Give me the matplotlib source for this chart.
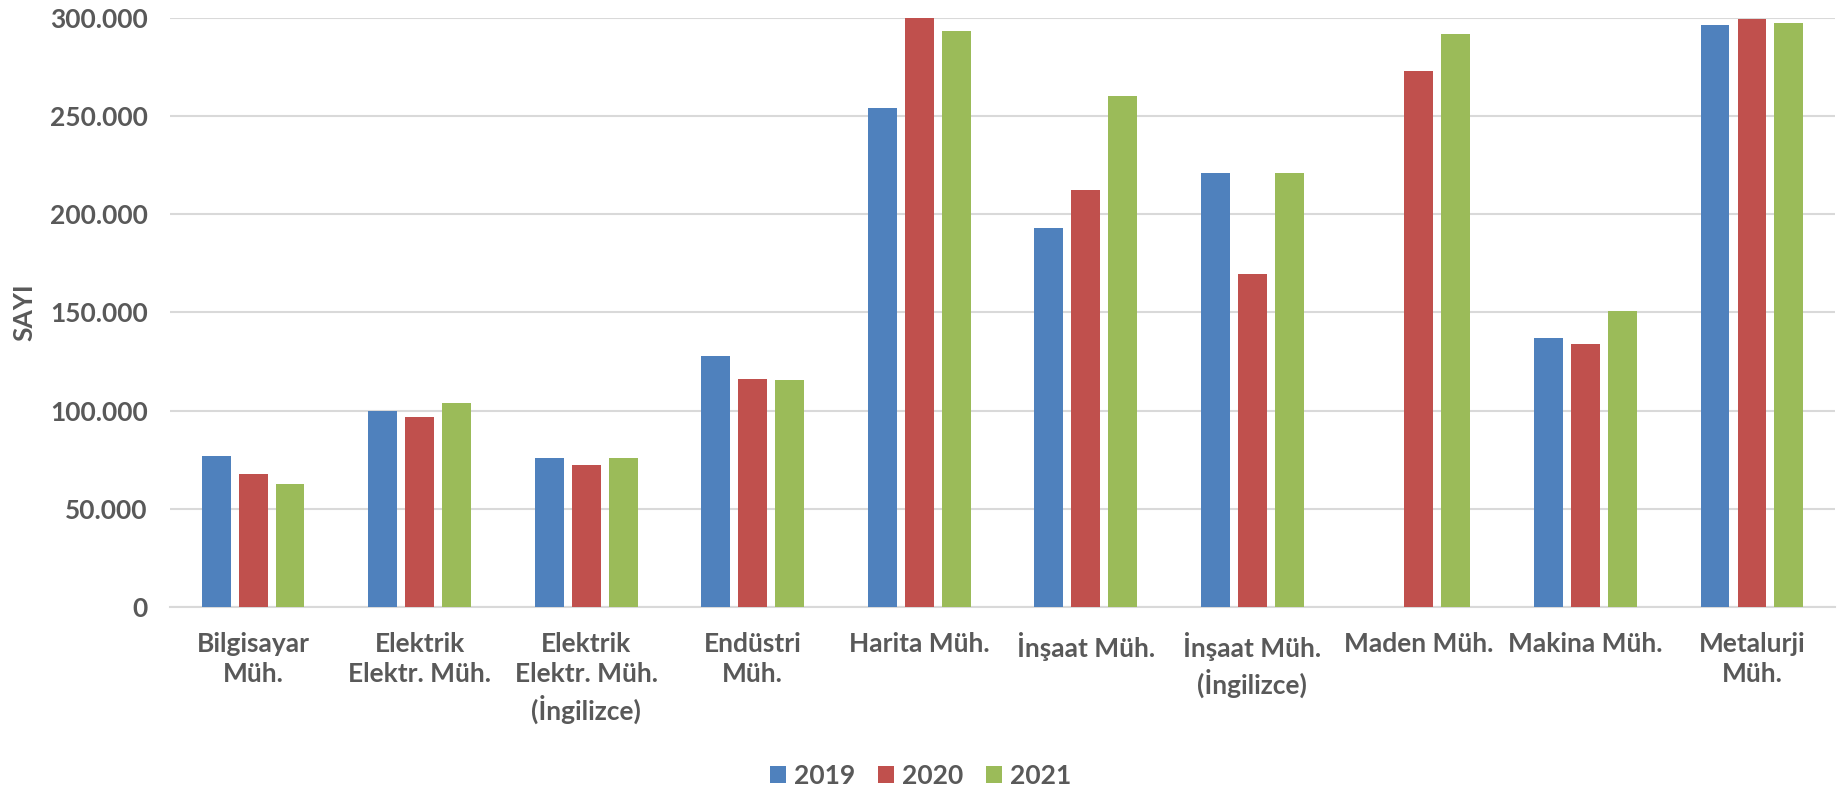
import numpy as np
import matplotlib
matplotlib.use("Agg")
import matplotlib.pyplot as plt
from matplotlib.ticker import FuncFormatter

plt.rcParams['font.family'] = ['Lato', 'DejaVu Sans']
plt.rcParams['font.weight'] = 'bold'

categories = [
    "Bilgisayar\nMüh.",
    "Elektrik\nElektr. Müh.",
    "Elektrik\nElektr. Müh.\n(İngilizce)",
    "Endüstri\nMüh.",
    "Harita Müh.",
    "İnşaat Müh.",
    "İnşaat Müh.\n(İngilizce)",
    "Maden Müh.",
    "Makina Müh.",
    "Metalurji\nMüh.",
]
years = ["2019", "2020", "2021"]
v2019 = [77000, 99600, 75700, 127800, 254200, 193000, 221000, 0, 136800, 296100]
v2020 = [67900, 96900, 72500, 116300, 300000, 212400, 169400, 273100, 134000, 299400]
v2021 = [62800, 103900, 76000, 115800, 293200, 260400, 221000, 291900, 150500, 297300]
yticks = [0, 50000, 100000, 150000, 200000, 250000, 300000]

colors = ['#4F81BD', '#C0504D', '#9BBB59']
text_color = '#595959'
grid_color = '#D9D9D9'
fs = 19

fig = plt.figure(figsize=(18.41, 7.91), dpi=100)
ax = fig.add_axes([0.0923, 0.2326, 0.9045, 0.7449])

x = np.arange(len(categories))
width = 0.172
pitch = 0.222
for i, (vals, label) in enumerate(zip([v2019, v2020, v2021], years)):
    ax.bar(x + (i - 1) * pitch, vals, width, color=colors[i], label=label, zorder=3)

ax.set_xlim(-0.5, len(categories) - 0.5)
ax.set_ylim(0, 300000)
ax.set_yticks(yticks)
ax.yaxis.set_major_formatter(FuncFormatter(lambda v, p: f"{int(v):,}".replace(",", ".")))
ax.set_xticks(x)
ax.set_xticklabels(categories, linespacing=1.32)

ax.tick_params(axis='both', length=0, labelsize=fs, labelcolor=text_color)
ax.tick_params(axis='x', pad=18)
ax.tick_params(axis='y', pad=16)

ax.grid(axis='y', color=grid_color, linewidth=1.5, zorder=0)
for side in ['top', 'right', 'left']:
    ax.spines[side].set_visible(False)
ax.spines['bottom'].set_color(grid_color)
ax.spines['bottom'].set_linewidth(1.5)

ax.set_ylabel("SAYI", fontsize=fs, color=text_color, fontweight='bold', labelpad=10)

fig.legend(loc='center', bbox_to_anchor=(0.5, 0.019), ncol=3, frameon=False,
           fontsize=fs, handlelength=0.6, handleheight=0.6, handletextpad=0.3,
           columnspacing=0.87, labelcolor=text_color)

fig.savefig("out.png", dpi=100)
